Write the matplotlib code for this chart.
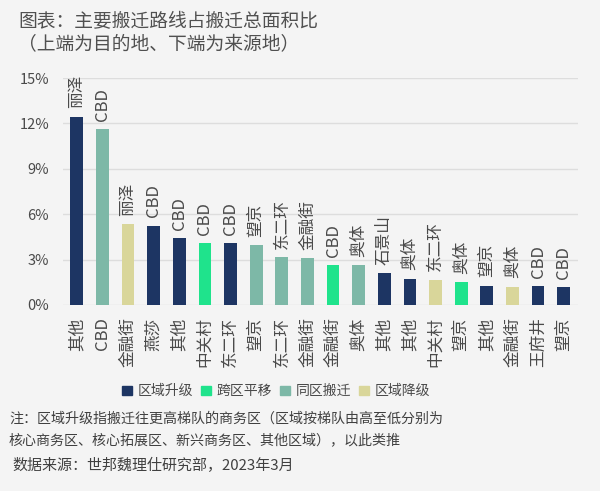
import matplotlib.pyplot as plt
from matplotlib.patches import Patch

plt.rcParams['font.family'] = ['Noto Sans CJK SC', 'DejaVu Sans']

# source (bottom) and destination (top) of each route
sources = ['其他', 'CBD', '金融街', '燕莎', '其他', '中关村', '东二环', '望京', '东二环', '金融街',
           '金融街', '奥体', '其他', '其他', '中关村', '望京', '其他', '金融街', '王府井', '望京']
dests = ['丽泽', 'CBD', '丽泽', 'CBD', 'CBD', 'CBD', 'CBD', '望京', '东二环', '金融街',
         'CBD', '奥体', '石景山', '奥体', '东二环', '奥体', '望京', '奥体', 'CBD', 'CBD']
shares = [12.45, 11.6, 5.35, 5.25, 4.4, 4.08, 4.08, 3.97, 3.15, 3.09,
          2.64, 2.64, 2.09, 1.74, 1.67, 1.52, 1.28, 1.21, 1.23, 1.17]
# 0 区域升级, 1 跨区平移, 2 同区搬迁, 3 区域降级
kinds = [0, 2, 3, 0, 0, 1, 0, 2, 2, 2, 1, 2, 0, 0, 3, 1, 0, 3, 0, 0]
kind_names = ['区域升级', '跨区平移', '同区搬迁', '区域降级']
kind_colors = ['#1d3563', '#1fe38c', '#7db8a7', '#d9d69a']

bg = '#f4f4f4'
txt = '#4a4a4a'

fig = plt.figure(figsize=(6, 4.91), dpi=100, facecolor=bg)
ax = fig.add_axes([0.105, 0.379, 0.858, 0.462], facecolor=bg)

x = range(len(shares))
ax.bar(x, shares, width=0.5, color=[kind_colors[k] for k in kinds], zorder=3)

for i, (v, lab) in enumerate(zip(shares, dests)):
    ax.annotate(lab, (i, v), xytext=(0, 6), textcoords='offset points',
                rotation=90, ha='center', va='bottom', fontsize=12,
                color=txt, annotation_clip=False)

ax.set_ylim(0, 15)
ax.set_xlim(-0.54, 19.55)
ax.set_yticks([0, 3, 6, 9, 12, 15])
ax.set_yticklabels([f'{t}%' for t in [0, 3, 6, 9, 12, 15]], fontsize=10.5, color=txt)
ax.set_xticks(list(x))
ax.set_xticklabels(sources, rotation=90, fontsize=12, color=txt, va='top')
ax.tick_params(length=0, axis='y', pad=10)
ax.tick_params(length=0, axis='x', pad=9)
ax.grid(axis='y', color='#dddddd', linewidth=1, zorder=0)
for s in ax.spines.values():
    s.set_visible(False)

handles = [Patch(color=c) for c in kind_colors]
fig.legend(handles, kind_names, loc='center', bbox_to_anchor=(0.46, 0.203), ncol=4,
           frameon=False, fontsize=10, handlelength=0.7, handleheight=0.7,
           handletextpad=0.4, columnspacing=0.6, labelcolor=txt)

fig.text(0.03, 0.955, '图表：主要搬迁路线占搬迁总面积比', fontsize=13.5, color='#505050', va='center')
fig.text(0.03, 0.908, '（上端为目的地、下端为来源地）', fontsize=13.5, color='#505050', va='center')

fig.text(0.015, 0.148, '注：区域升级指搬迁往更高梯队的商务区（区域按梯队由高至低分别为',
         fontsize=10.1, color='#404040', va='center')
fig.text(0.015, 0.103, '核心商务区、核心拓展区、新兴商务区、其他区域），以此类推',
         fontsize=10.1, color='#404040', va='center')
fig.text(0.02, 0.053, '数据来源：世邦魏理仕研究部，2023年3月',
         fontsize=10.8, color='#404040', va='center')

fig.savefig('out.png', dpi=100, facecolor=bg)
